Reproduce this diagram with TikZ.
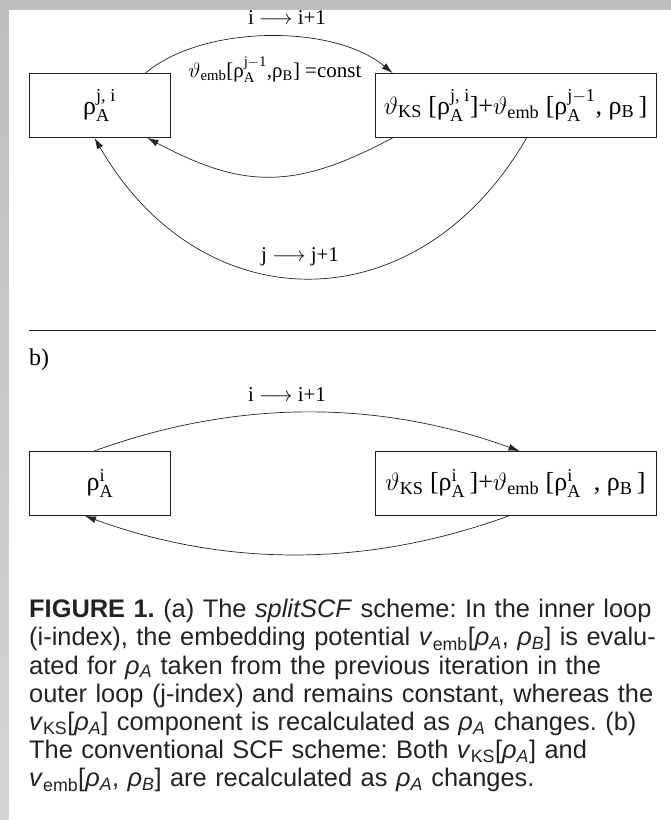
\documentclass[tikz,border=0pt]{standalone}
\usepackage{amsmath}
\usepackage{fontspec}
\setmainfont{Liberation Serif}
\newfontfamily\capfont{Liberation Sans}
\usetikzlibrary{arrows.meta,positioning,calc}
\definecolor{framegray}{RGB}{190,190,190}
\definecolor{framelight}{RGB}{212,212,212}
\definecolor{inkgray}{RGB}{35,35,35}
\tikzset{
  statebox/.style={rectangle,draw=inkgray,line width=0.9pt,minimum width=141pt,minimum height=64pt,inner sep=0pt,font=\fontsize{26}{28}\selectfont},
  potbox/.style={statebox,minimum width=281pt},
  looplabel/.style={inner sep=0pt,font=\fontsize{21}{24}\selectfont},
  looparr/.style={-{Latex[length=11pt,width=7pt]},line width=0.7pt,color=inkgray},
  captext/.style={anchor=north west,inner sep=0pt,text width=660pt,align=left,color=inkgray,font=\capfont\fontsize{25.4}{28.2}\selectfont\frenchspacing}
}
\newcommand{\rhoA}[1]{ρ$^{\text{#1}}_{\text{A}}$}
\newcommand{\rhoB}{ρ$_{\text{B}}$}
\newcommand{\vemb}{$\vartheta_{\text{emb}}$}
\newcommand{\vks}{$\vartheta_{\text{KS}}$}
\newcommand{\capv}[1]{\textit{v}\textsubscript{#1}}
\newcommand{\caprho}[1]{\textit{ρ}\textsubscript{\textit{#1}}}

\begin{document}
\begin{tikzpicture}[x=1pt,y=1pt]
  \useasboundingbox (0,0) rectangle (671,-820);
  \fill[framegray] (0,0) rectangle (671,-9.5);
  \shade[top color=framegray,bottom color=framelight] (0,-9.5) rectangle (8.7,-820);

  % (a) splitSCF
  \node[statebox] (rhoa) at (99.5,-105.5) {\rhoA{j, i}};
  \node[potbox] (pota) at (515.5,-105.5) {\vks\ [\rhoA{j, i}]+\vemb\ [\rhoA{j$-$1}, \rhoB\,]};
  \node[looplabel] (ia) at (287,-18) {i $\longrightarrow$ i+1};
  \node[looplabel] (consta) at (275,-70) {\vemb[\rhoA{j$-$1},\rhoB] =const};
  \node[looplabel] (ja) at (300,-257) {j $\longrightarrow$ j+1};

  \draw[looparr] ([xshift=-25pt]rhoa.north east) to[out=40,in=140,looseness=0.79] ([xshift=18pt]pota.north west);
  \draw[looparr] ([xshift=18pt]pota.south west) to[out=-152,in=-28,looseness=1.15] ([xshift=-23pt]rhoa.south east);
  \draw[looparr] ([xshift=152pt]pota.south west) to[out=-120,in=-60,looseness=1.28] ([xshift=66pt]rhoa.south west);

  \coordinate (sepl) at (29,-330);
  \coordinate (sepr) at (656,-330);
  \draw[inkgray,line width=0.8pt] (sepl) -- (sepr);

  % (b) conventional SCF
  \node[anchor=west,inner sep=0pt,font=\fontsize{24}{28}\selectfont] (labb) at (29,-360) {b)};
  \node[statebox] (rhob) at (100,-483.5) {\rhoA{i}};
  \node[potbox] (potb) at (515.5,-483.5) {\vks\ [\rhoA{i}\,]+\vemb\ [\rhoA{i}\ \ , \rhoB\,]};
  \node[looplabel] (ib) at (287,-395) {i $\longrightarrow$ i+1};

  \draw[looparr] ([xshift=65pt]rhob.north west) to[out=20,in=160,looseness=0.91] ([xshift=145pt]potb.north west);
  \draw[looparr] ([xshift=134pt]potb.south west) to[out=-160,in=-20,looseness=0.91] ([xshift=56pt]rhob.south west);

  \node[captext] (cap) at (29,-599) {\textbf{FIGURE 1.} (a) The \textit{splitSCF} scheme: In the inner loop\\
    (i-index), the embedding potential \capv{emb}[\caprho{A}, \caprho{B}] is evalu-\\
    ated for \caprho{A} taken from the previous iteration in the\\
    outer loop (j-index) and remains constant, whereas the\\
    \capv{KS}[\caprho{A}] component is recalculated as \caprho{A} changes. (b)\\
    The conventional SCF scheme: Both \capv{KS}[\caprho{A}] and\\
    \capv{emb}[\caprho{A}, \caprho{B}] are recalculated as \caprho{A} changes.};
\end{tikzpicture}
\end{document}
